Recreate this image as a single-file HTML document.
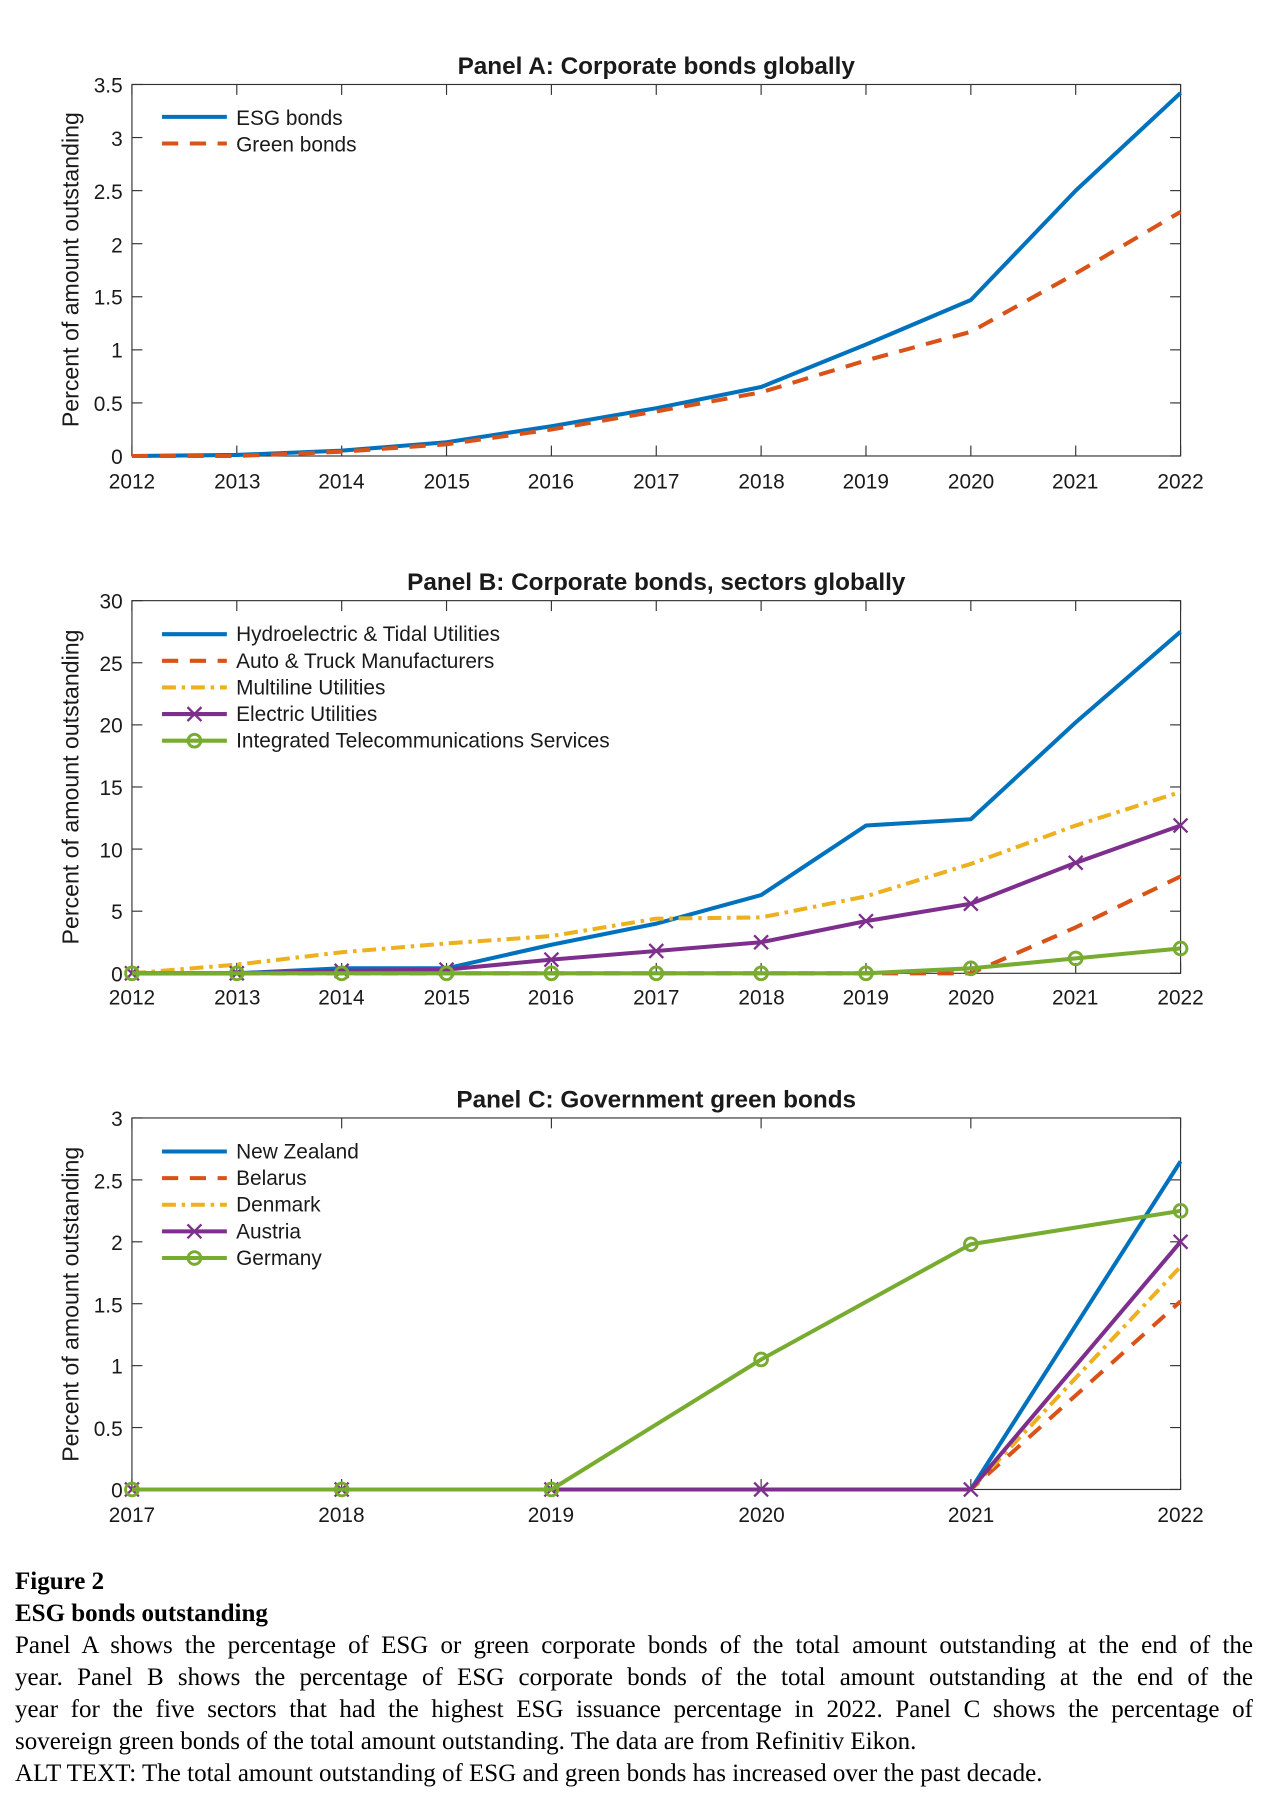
<!DOCTYPE html>
<html><head><meta charset="utf-8"><style>
html,body{margin:0;padding:0;background:#fff;}
body{width:1272px;height:1806px;position:relative;overflow:hidden;}
svg{position:absolute;left:0;top:0;}
.cap{position:absolute;left:15px;width:1238px;font-family:"Liberation Serif",serif;font-size:25px;color:#000;line-height:32px;white-space:nowrap;}
.j{text-align:justify;text-align-last:justify;white-space:normal;}
</style></head><body>
<svg id="s" width="1272" height="1806" viewBox="0 0 1099 1560.5" preserveAspectRatio="none" font-family="Liberation Sans, sans-serif">
<g font-size="18" fill="#1a1a1a">
<!-- Panel A -->
<text x="567" y="64" text-anchor="middle" font-weight="bold" font-size="21">Panel A: Corporate bonds globally</text>
<text transform="translate(68,233) rotate(-90)" text-anchor="middle" font-size="20">Percent of amount outstanding</text>
<g text-anchor="end">
<text x="106" y="80">3.5</text><text x="106" y="126">3</text><text x="106" y="172">2.5</text><text x="106" y="218">2</text><text x="106" y="263">1.5</text><text x="106" y="309">1</text><text x="106" y="355">0.5</text><text x="106" y="401">0</text>
</g>
<g text-anchor="middle">
<text x="114" y="422">2012</text><text x="205" y="422">2013</text><text x="295" y="422">2014</text><text x="386" y="422">2015</text><text x="476" y="422">2016</text><text x="567" y="422">2017</text><text x="658" y="422">2018</text><text x="748" y="422">2019</text><text x="839" y="422">2020</text><text x="929" y="422">2021</text><text x="1020" y="422">2022</text>
</g>
<text x="204" y="108">ESG bonds</text><text x="204" y="131">Green bonds</text>
<!-- Panel B -->
<text x="567" y="510" text-anchor="middle" font-weight="bold" font-size="21">Panel B: Corporate bonds, sectors globally</text>
<text transform="translate(68,680) rotate(-90)" text-anchor="middle" font-size="20">Percent of amount outstanding</text>
<g text-anchor="end">
<text x="106" y="526">30</text><text x="106" y="580">25</text><text x="106" y="633">20</text><text x="106" y="687">15</text><text x="106" y="741">10</text><text x="106" y="794">5</text><text x="106" y="848">0</text>
</g>
<g text-anchor="middle">
<text x="114" y="868">2012</text><text x="205" y="868">2013</text><text x="295" y="868">2014</text><text x="386" y="868">2015</text><text x="476" y="868">2016</text><text x="567" y="868">2017</text><text x="658" y="868">2018</text><text x="748" y="868">2019</text><text x="839" y="868">2020</text><text x="929" y="868">2021</text><text x="1020" y="868">2022</text>
</g>
<text x="204" y="554">Hydroelectric &amp; Tidal Utilities</text><text x="204" y="577">Auto &amp; Truck Manufacturers</text><text x="204" y="600">Multiline Utilities</text><text x="204" y="623">Electric Utilities</text><text x="204" y="646">Integrated Telecommunications Services</text>
<!-- Panel C -->
<text x="567" y="957" text-anchor="middle" font-weight="bold" font-size="21">Panel C: Government green bonds</text>
<text transform="translate(68,1127) rotate(-90)" text-anchor="middle" font-size="20">Percent of amount outstanding</text>
<g text-anchor="end">
<text x="106" y="973">3</text><text x="106" y="1027">2.5</text><text x="106" y="1080">2</text><text x="106" y="1134">1.5</text><text x="106" y="1187">1</text><text x="106" y="1241">0.5</text><text x="106" y="1294">0</text>
</g>
<g text-anchor="middle">
<text x="114" y="1315">2017</text><text x="295" y="1315">2018</text><text x="476" y="1315">2019</text><text x="658" y="1315">2020</text><text x="839" y="1315">2021</text><text x="1020" y="1315">2022</text>
</g>
<text x="204" y="1001">New Zealand</text><text x="204" y="1024">Belarus</text><text x="204" y="1047">Denmark</text><text x="204" y="1070">Austria</text><text x="204" y="1093">Germany</text>
</g>
<g id="g"></g>
</svg>
<div class="cap" style="top:1566px;font-weight:bold">Figure 2</div>
<div class="cap" style="top:1598px;font-weight:bold">ESG bonds outstanding</div>
<div class="cap j" style="top:1630px">Panel A shows the percentage of ESG or green corporate bonds of the total amount outstanding at the end of the</div>
<div class="cap j" style="top:1662px">year. Panel B shows the percentage of ESG corporate bonds of the total amount outstanding at the end of the</div>
<div class="cap j" style="top:1694px">year for the five sectors that had the highest ESG issuance percentage in 2022. Panel C shows the percentage of</div>
<div class="cap" style="top:1726px">sovereign green bonds of the total amount outstanding. The data are from Refinitiv Eikon.</div>
<div class="cap" style="top:1758px">ALT TEXT: The total amount outstanding of ESG and green bonds has increased over the past decade.</div>
<script>
var G=document.getElementById('g'),out='';
var C={b:'#0072BD',o:'#D95319',y:'#EDB120',p:'#7E2F8E',g:'#77AC30'};
var L=114,R=1020;
function axes(top,bot,yt,nx){
  out+='<rect x="'+L+'" y="'+top+'" width="'+(R-L)+'" height="'+(bot-top)+'" fill="none" stroke="#333" stroke-width="1"/>';
  for(var i=0;i<nx;i++){var x=L+(R-L)*i/(nx-1);out+='<line x1="'+x+'" x2="'+x+'" y1="'+bot+'" y2="'+(bot-9)+'" stroke="#333"/><line x1="'+x+'" x2="'+x+'" y1="'+top+'" y2="'+(top+9)+'" stroke="#333"/>';}
  for(var j=0;j<yt;j++){var y=bot-(bot-top)*j/(yt-1);out+='<line x1="'+L+'" x2="'+(L+9)+'" y1="'+y+'" y2="'+y+'" stroke="#333"/><line x1="'+R+'" x2="'+(R-9)+'" y1="'+y+'" y2="'+y+'" stroke="#333"/>';}
}
function dash(s){return s=='-'?'':s=='--'?' stroke-dasharray="14,10"':' stroke-dasharray="12,5,3,5"';}
function series(top,bot,ymax,d,col,st,mk){
  var n=d.length,pts=[];
  for(var i=0;i<n;i++){pts.push([L+(R-L)*i/(n-1),bot-(bot-top)*d[i]/ymax]);}
  out+='<polyline fill="none" stroke="'+col+'" stroke-width="3.5" stroke-linejoin="round"'+dash(st)+' points="'+pts.map(function(p){return p[0].toFixed(1)+','+p[1].toFixed(1)}).join(' ')+'"/>';
  pts.forEach(function(p){marker(p[0],p[1],col,mk);});
}
function marker(x,y,col,mk){
  if(mk=='x')out+='<path d="M'+(x-6)+' '+(y-6)+'L'+(x+6)+' '+(y+6)+'M'+(x-6)+' '+(y+6)+'L'+(x+6)+' '+(y-6)+'" stroke="'+col+'" stroke-width="2"/>';
  if(mk=='o')out+='<circle cx="'+x+'" cy="'+y+'" r="5.5" fill="none" stroke="'+col+'" stroke-width="2.5"/>';
}
function leg(y,col,st,mk){out+='<line x1="140" x2="196" y1="'+y+'" y2="'+y+'" stroke="'+col+'" stroke-width="3.5"'+dash(st)+'/>';marker(168,y,col,mk);}
axes(73,394,8,11);
series(73,394,3.5,[0,0.01,0.05,0.13,0.28,0.45,0.65,1.05,1.47,2.5,3.42],C.b,'-');
series(73,394,3.5,[0,0,0.04,0.11,0.25,0.42,0.6,0.9,1.17,1.72,2.3],C.o,'--');
leg(101,C.b,'-');leg(124,C.o,'--');
axes(519,841,7,11);
series(519,841,30,[0,0,0.4,0.4,2.3,4,6.3,11.9,12.4,20.2,27.5],C.b,'-');
series(519,841,30,[0,0,0,0,0,0,0,0,0,3.7,7.8],C.o,'--');
series(519,841,30,[0,0.7,1.7,2.4,3,4.4,4.5,6.2,8.8,11.9,14.6],C.y,'-.');
series(519,841,30,[0,0,0.2,0.3,1.1,1.8,2.5,4.2,5.6,8.9,11.9],C.p,'-','x');
series(519,841,30,[0,0,0,0,0,0,0,0,0.4,1.2,2],C.g,'-','o');
leg(548,C.b,'-');leg(571,C.o,'--');leg(594,C.y,'-.');leg(617,C.p,'-','x');leg(640,C.g,'-','o');
axes(966,1287,7,6);
series(966,1287,3,[0,0,0,0,0,2.65],C.b,'-');
series(966,1287,3,[0,0,0,0,0,1.52],C.o,'--');
series(966,1287,3,[0,0,0,0,0,1.8],C.y,'-.');
series(966,1287,3,[0,0,0,0,0,2.0],C.p,'-','x');
series(966,1287,3,[0,0,0,1.05,1.98,2.25],C.g,'-','o');
leg(995,C.b,'-');leg(1018,C.o,'--');leg(1041,C.y,'-.');leg(1064,C.p,'-','x');leg(1087,C.g,'-','o');
G.innerHTML=out;
</script>
</body></html>
